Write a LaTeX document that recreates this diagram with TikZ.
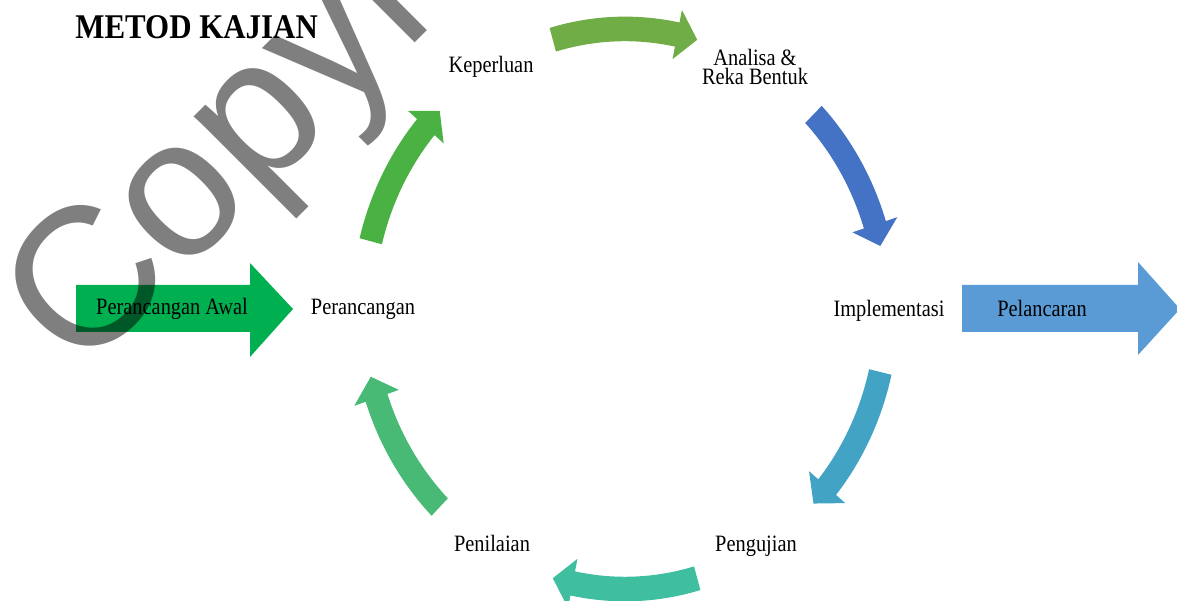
\documentclass[tikz,border=0pt]{standalone}
\usepackage{fontspec}
\setmainfont{Liberation Serif}
\newfontfamily\wmfont{Liberation Sans}
\definecolor{awalgreen}{RGB}{0,176,80}
\definecolor{lancarblue}{RGB}{91,155,213}
\definecolor{cycA}{RGB}{74,178,66}
\definecolor{cycB}{RGB}{112,173,71}
\definecolor{cycC}{RGB}{68,114,196}
\definecolor{cycD}{RGB}{66,163,196}
\definecolor{cycE}{RGB}{64,191,160}
\definecolor{cycF}{RGB}{72,186,118}
\begin{document}
\begin{tikzpicture}[
    lbl/.style={font=\fontsize{11.6}{13}\selectfont, inner sep=0pt, anchor=base, yscale=1.15},
  ]
  \useasboundingbox (0,0) rectangle (23.54,12.02);
  \clip (0,0) rectangle (23.54,12.02);

  % Draw the block arrows
  \fill[awalgreen] (1.52,5.38) -- (5.0,5.38) -- (5.0,4.88) -- (5.86,5.84) -- (5.0,6.76) -- (5.0,6.32) -- (1.52,6.32) -- cycle;
  \fill[lancarblue] (19.24,5.38) -- (22.76,5.38) -- (22.76,4.92) -- (23.6,5.84) -- (22.76,6.78) -- (22.76,6.32) -- (19.24,6.32) -- cycle;

  % Draw the cycle
  \coordinate (centre) at (12.5,5.84);
  \def\R{5.24}
  \def\Ro{5.47}
  \def\Ri{5.01}
  \def\Ho{5.71}
  \def\Hi{4.77}
  \def\d{4.5}
  \begin{scope}[shift={(centre)}, yscale=1.069]
    \foreach \s/\e/\col in {166/135/cycA, 106/74/cycB, 44/13/cycC, -13/-44/cycD, -74/-106/cycE, -135/-166/cycF} {
      \fill[\col] (\s:\Ro) arc[start angle=\s, end angle=\e+\d, radius=\Ro]
        -- ({\e+\d}:\Ho) -- (\e:\R) -- ({\e+\d}:\Hi) -- ({\e+\d}:\Ri)
        arc[start angle=\e+\d, end angle=\s, radius=\Ri] -- cycle;
    }
  \end{scope}

  % Labels
  \node[font=\bfseries\fontsize{17.6}{20}\selectfont, anchor=base west, inner sep=0pt, yscale=1.12] (title) at (1.5,11.24) {METOD KAJIAN};
  \node[lbl] (keperluan) at (9.82,10.56) {Keperluan};
  \node[lbl, font=\fontsize{11.6}{9.8}\selectfont, align=center, anchor=center] (analisa) at (15.1,10.68) {Analisa \&\\Reka Bentuk};
  \node[lbl] (perancangan) at (7.26,5.72) {Perancangan};
  \node[lbl] (awal) at (3.44,5.72) {Perancangan Awal};
  \node[lbl] (implementasi) at (17.78,5.68) {Implementasi};
  \node[lbl] (pelancaran) at (20.84,5.68) {Pelancaran};
  \node[lbl] (penilaian) at (9.84,0.98) {Penilaian};
  \node[lbl] (pengujian) at (15.12,0.98) {Pengujian};

  % Watermark
  \node[rotate=45, anchor=base west, text=black, text opacity=0.5, inner sep=0pt, font=\wmfont\fontsize{112}{118}\selectfont] (mark) at (1.6,4.46) {Copyright};
\end{tikzpicture}
\end{document}
